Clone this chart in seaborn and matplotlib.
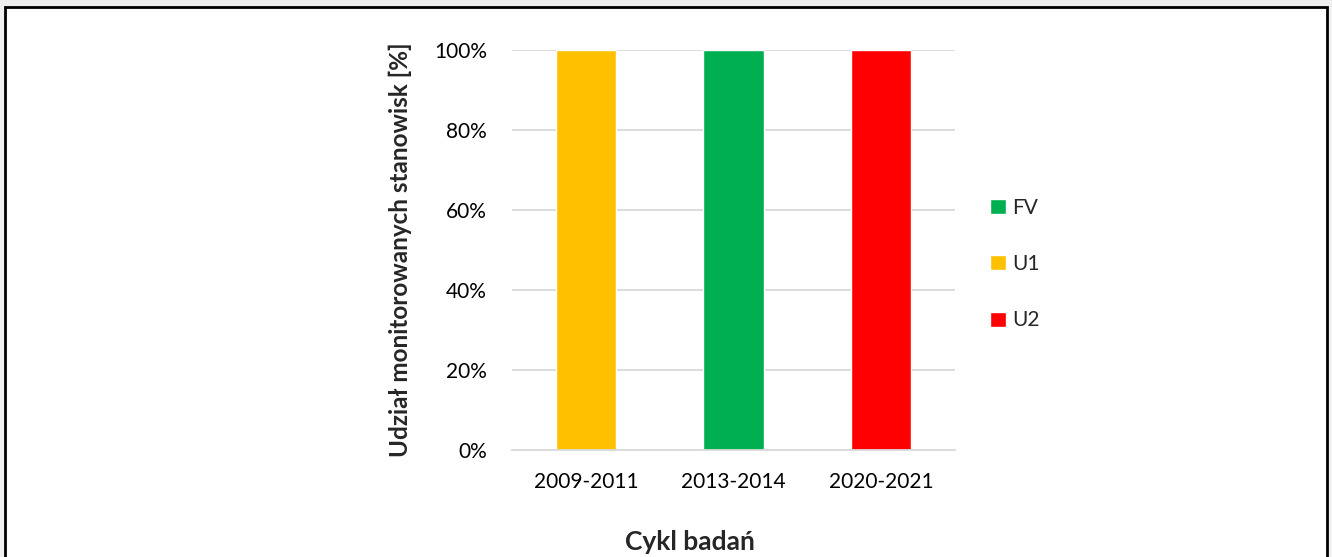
import matplotlib
matplotlib.use("Agg")
import matplotlib.pyplot as plt
import matplotlib.patches as mpatches
import pandas as pd
import seaborn as sns
from matplotlib.ticker import PercentFormatter

cycles = ["2009-2011", "2013-2014", "2020-2021"]
shares = [100, 100, 100]
status = ["U1", "FV", "U2"]
status_order = ["FV", "U1", "U2"]
status_colors = {"FV": "#00b050", "U1": "#ffc000", "U2": "#ff0000"}

df = pd.DataFrame({"cycle": cycles, "share": shares, "status": status})

sns.set_theme(style="white")
plt.rcParams["font.family"] = ["Lato", "DejaVu Sans"]

fig = plt.figure(figsize=(13.32, 5.57), dpi=100, facecolor="#f0f0f0")
# white panel with black frame, kept behind the axes
fig.patches.append(mpatches.Rectangle(
    (5 / 1332, -0.02), 1322 / 1332, (557 - 7) / 557 + 0.02,
    transform=fig.transFigure, facecolor="white", edgecolor="black",
    linewidth=2, zorder=-10))

ax = fig.add_axes([512 / 1332, (557 - 450) / 557, 443 / 1332, 400 / 557])
ax.set_facecolor("none")
ax.set_zorder(5)

sns.barplot(data=df, x="cycle", y="share", hue="status", hue_order=status_order,
            palette=status_colors, dodge=False, width=0.41, ax=ax,
            order=cycles, saturation=1, legend=True)

ax.set_ylim(0, 100)
ax.set_yticks([0, 20, 40, 60, 80, 100])
ax.yaxis.set_major_formatter(PercentFormatter(decimals=0))
ax.grid(axis="y", color="#d9d9d9", linewidth=1.3)
ax.set_axisbelow(True)
for side in ["top", "right", "left"]:
    ax.spines[side].set_visible(False)
ax.spines["bottom"].set_color("#d9d9d9")
ax.spines["bottom"].set_linewidth(1.3)
ax.tick_params(axis="both", length=0, labelsize=15, colors="black")
ax.tick_params(axis="y", pad=18)
ax.tick_params(axis="x", pad=16)
ax.set_xlabel("")
ax.set_ylabel("Udział monitorowanych stanowisk [%]", fontsize=17.5,
              fontweight="bold", labelpad=16)

fig.text(690 / 1332, 1 - 542 / 557, "Cykl badań", ha="center", va="center",
         fontsize=19, fontweight="bold")

handles, labels = ax.get_legend_handles_labels()
ax.legend(handles, labels, loc="center left", bbox_to_anchor=(1.037, 0.465),
          frameon=False, fontsize=15, handlelength=0.75, handleheight=0.75,
          handletextpad=0.3, labelspacing=1.75)

fig.savefig("out.png", dpi=100, facecolor=fig.get_facecolor())
